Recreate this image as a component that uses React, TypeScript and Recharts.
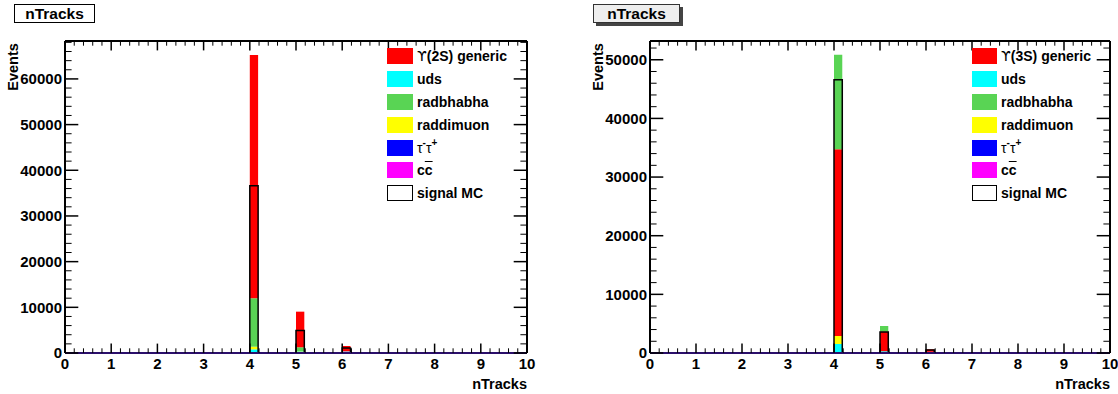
import React from 'react';
import { ComposedChart, Bar, XAxis, YAxis } from 'recharts';

// histogram bins: 50 bins of width 0.2 on [0, 10]; only these bins are filled
const binLows = [4.0, 5.0, 6.0];

// Upsilon(2S) panel, events per filled bin
const generic2S = [53270, 7800, 1130];
const uds2S = [650, 150, 50];
const radbhabha2S = [10600, 900, 50];
const raddimuon2S = [580, 50, 0];
const tautau2S = [100, 100, 200];
const ccbar2S = [50, 50, 100];
const signal2S = [36600, 4900, 1100];

// Upsilon(3S) panel
const generic3S = [31860, 3350, 430];
const uds3S = [1390, 150, 0];
const radbhabha3S = [16090, 950, 0];
const raddimuon3S = [1360, 0, 0];
const tautau3S = [100, 100, 150];
const ccbar3S = [50, 50, 50];
const signal3S = [46600, 3600, 500];

const xMajor = [0, 1, 2, 3, 4, 5, 6, 7, 8, 9, 10];
const yMajor2S = [0, 10000, 20000, 30000, 40000, 50000, 60000];
const yMajor3S = [0, 10000, 20000, 30000, 40000, 50000];

const COLORS: Record<string, string> = {
  generic: '#ff0000',
  uds: '#00ffff',
  radbhabha: '#59d454',
  raddimuon: '#ffff00',
  tautau: '#0000ff',
  ccbar: '#ff00ff',
};

const FONT = '"Liberation Sans", Arial, Helvetica, sans-serif';
const NBINS = 50;
const BINW = 0.2;
const AX = 1; // size given to each visible axis

function buildData(series: Record<string, number[]>) {
  const rows: any[] = [];
  for (let i = 0; i < NBINS; i++) {
    const lo = i * BINW;
    const row: any = { x: +(lo + BINW / 2).toFixed(2) };
    const k = binLows.findIndex(b => Math.abs(b - lo) < 1e-6);
    for (const key in series) row[key] = k >= 0 ? series[key][k] : 0;
    rows.push(row);
  }
  return rows;
}

// major ticks plus 4 minor ticks between each pair
function withMinor(majors: number[], upTo: number) {
  const step = (majors[1] - majors[0]) / 5;
  const out: number[] = [];
  for (let i = 0; i * step <= upTo + 1e-9; i++) out.push(+(i * step).toFixed(3));
  return out;
}

const labelStyle = { fontFamily: FONT, fontWeight: 'bold' as const, fontSize: 15, fill: '#000' };

const bottomTick = (majors: number[]) => (p: any) => {
  const v = p.payload.value;
  const major = majors.includes(v);
  return (
    <g>
      <line x1={p.x} x2={p.x} y1={p.y} y2={p.y - (major ? 9.4 : 4.7)} stroke="#000" strokeWidth={major ? 1.5 : 1} />
      {major && (
        <text x={p.x} y={p.y + 15.5} textAnchor="middle" style={labelStyle}>{v}</text>
      )}
    </g>
  );
};

const topTick = (majors: number[]) => (p: any) => {
  const major = majors.includes(p.payload.value);
  return <line x1={p.x} x2={p.x} y1={p.y} y2={p.y + (major ? 9.4 : 4.7)} stroke="#000" strokeWidth={major ? 1.5 : 1} />;
};

const leftTick = (majors: number[]) => (p: any) => {
  const v = p.payload.value;
  const major = majors.includes(v);
  return (
    <g>
      <line x1={p.x} x2={p.x + (major ? 13.3 : 6.6)} y1={p.y} y2={p.y} stroke="#000" strokeWidth={major ? 1.5 : 1} />
      {major && (
        <text x={p.x - 3} y={p.y + 5.3} textAnchor="end" style={labelStyle}>{v}</text>
      )}
    </g>
  );
};

const rightTick = (majors: number[]) => (p: any) => {
  const major = majors.includes(p.payload.value);
  return <line x1={p.x} x2={p.x - (major ? 13.3 : 6.6)} y1={p.y} y2={p.y} stroke="#000" strokeWidth={major ? 1.5 : 1} />;
};

interface PanelProps {
  left: number;
  plot: { top: number; right: number; bottom: number; left: number };
  data: any[];
  stackOrder: string[];
  yMax: number;
  yMajor: number[];
  yTickMax: number;
}

const PANEL_W = 559;
const PANEL_H = 394;

const Panel: React.FC<PanelProps> = ({ left, plot, data, stackOrder, yMax, yMajor, yTickMax }) => {
  const plotW = PANEL_W - plot.left - plot.right;
  const bw = plotW / NBINS;
  const xTicks = withMinor(xMajor, 10);
  const yTicks = withMinor(yMajor, yTickMax);
  const margin = { top: plot.top - AX, right: plot.right - AX, bottom: plot.bottom - AX, left: plot.left - AX };
  return (
    <div style={{ position: 'absolute', left, top: 0 }}>
      <ComposedChart width={PANEL_W} height={PANEL_H} data={data} margin={margin} barGap={0} barCategoryGap={0}>
        <XAxis xAxisId="main" dataKey="x" type="number" domain={[0, 10]} allowDataOverflow ticks={xTicks} interval={0}
          height={AX} tickSize={0} tickMargin={0} tickLine={false} axisLine={{ stroke: '#2b0f6b', strokeWidth: 2 }}
          tick={bottomTick(xMajor)} />
        <XAxis xAxisId="top" orientation="top" dataKey="x" type="number" domain={[0, 10]} allowDataOverflow ticks={xTicks} interval={0}
          height={AX} tickSize={0} tickMargin={0} tickLine={false} axisLine={{ stroke: '#000', strokeWidth: 2 }}
          tick={topTick(xMajor)} />
        <XAxis xAxisId="sig" dataKey="x" type="number" domain={[0, 10]} allowDataOverflow hide />
        <YAxis type="number" domain={[0, yMax]} allowDataOverflow ticks={yTicks} interval={0}
          width={AX} tickSize={0} tickMargin={0} tickLine={false} axisLine={{ stroke: '#000', strokeWidth: 2 }}
          tick={leftTick(yMajor)} />
        <YAxis yAxisId="r" orientation="right" type="number" domain={[0, yMax]} allowDataOverflow ticks={yTicks} interval={0}
          width={AX} tickSize={0} tickMargin={0} tickLine={false} axisLine={{ stroke: '#000', strokeWidth: 2 }}
          tick={rightTick(yMajor)} />
        {stackOrder.map(key => (
          <Bar key={key} xAxisId="main" dataKey={key} stackId="s" fill={COLORS[key]} barSize={bw} isAnimationActive={false} />
        ))}
        <Bar xAxisId="sig" dataKey="signal" fill="none" stroke="#000" strokeWidth={1.5} barSize={bw} isAnimationActive={false} />
      </ComposedChart>
    </div>
  );
};

const legendText = { fontFamily: FONT, fontWeight: 'bold' as const, fontSize: 14, color: '#000', whiteSpace: 'nowrap' as const };
const supStyle = { fontSize: 10, verticalAlign: 'top' as const, lineHeight: '10px', position: 'relative' as const, top: -2 };

const Legend: React.FC<{ x: number; boxW: number; tag: string }> = ({ x, boxW, tag }) => {
  const items: { color: string | null; label: React.ReactNode }[] = [
    { color: COLORS.generic, label: <><span style={{ fontWeight: 'normal', fontFamily: '"DejaVu Sans"' }}>ϒ</span>({tag}) generic</> },
    { color: COLORS.uds, label: 'uds' },
    { color: COLORS.radbhabha, label: 'radbhabha' },
    { color: COLORS.raddimuon, label: 'raddimuon' },
    { color: COLORS.tautau, label: <><span style={{ fontWeight: 'normal' }}>τ</span><span style={supStyle}>-</span><span style={{ fontWeight: 'normal' }}>τ</span><span style={supStyle}>+</span></> },
    { color: COLORS.ccbar, label: <>c<span style={{ textDecoration: 'overline' }}>c</span></> },
    { color: null, label: 'signal MC' },
  ];
  return (
    <div style={{ position: 'absolute', left: x, top: 45 }}>
      {items.map((it, i) => (
        <div key={i} style={{ display: 'flex', alignItems: 'center', height: 22.8 }}>
          <div style={{
            width: boxW, height: 16, boxSizing: 'border-box',
            background: it.color ?? '#fff', border: it.color ? 'none' : '1px solid #000',
          }} />
          <span style={{ ...legendText, marginLeft: 4 }}>{it.label}</span>
        </div>
      ))}
    </div>
  );
};

const titleText = { fontFamily: FONT, fontWeight: 'bold' as const, fontSize: 15.5, color: '#000', textAlign: 'center' as const, lineHeight: '17px' };
const axisTitle = { fontFamily: FONT, fontWeight: 'bold' as const, fontSize: 14.5, color: '#000', position: 'absolute' as const, whiteSpace: 'nowrap' as const };

export default function App() {
  const data2S = buildData({
    tautau: tautau2S, ccbar: ccbar2S, uds: uds2S, raddimuon: raddimuon2S,
    radbhabha: radbhabha2S, generic: generic2S, signal: signal2S,
  });
  const data3S = buildData({
    tautau: tautau3S, ccbar: ccbar3S, uds: uds3S, raddimuon: raddimuon3S,
    radbhabha: radbhabha3S, generic: generic3S, signal: signal3S,
  });

  return (
    <div style={{ position: 'absolute', left: 0, top: 0, width: 1118, height: 394, background: '#fff', overflow: 'hidden' }}>
      <Panel left={0} plot={{ top: 41, right: 32, bottom: 41, left: 65 }} data={data2S}
        stackOrder={['tautau', 'ccbar', 'uds', 'raddimuon', 'radbhabha', 'generic']}
        yMax={68300} yMajor={yMajor2S} yTickMax={68000} />
      <Panel left={559} plot={{ top: 41, right: 8, bottom: 41, left: 91 }} data={data3S}
        stackOrder={['tautau', 'ccbar', 'uds', 'raddimuon', 'generic', 'radbhabha']}
        yMax={53200} yMajor={yMajor3S} yTickMax={52000} />

      <Legend x={387} boxW={26} tag="2S" />
      <Legend x={972} boxW={25} tag="3S" />

      <div style={{ position: 'absolute', left: 14, top: 4, width: 81, height: 19, boxSizing: 'border-box', border: '1px solid #000', background: '#fff', ...titleText }}>nTracks</div>
      <div style={{ position: 'absolute', left: 593, top: 4, width: 87, height: 19, boxSizing: 'border-box', border: '1px solid #333', background: '#eeeeee', boxShadow: '3px 3px 0 #444', ...titleText }}>nTracks</div>

      <div style={{ ...axisTitle, left: 13, top: 67, transform: 'translate(-50%, -50%) rotate(-90deg)' }}>Events</div>
      <div style={{ ...axisTitle, left: 598, top: 67, transform: 'translate(-50%, -50%) rotate(-90deg)' }}>Events</div>

      <div style={{ ...axisTitle, right: 1118 - 527, top: 376 }}>nTracks</div>
      <div style={{ ...axisTitle, right: 1118 - 1110, top: 376 }}>nTracks</div>
    </div>
  );
}
